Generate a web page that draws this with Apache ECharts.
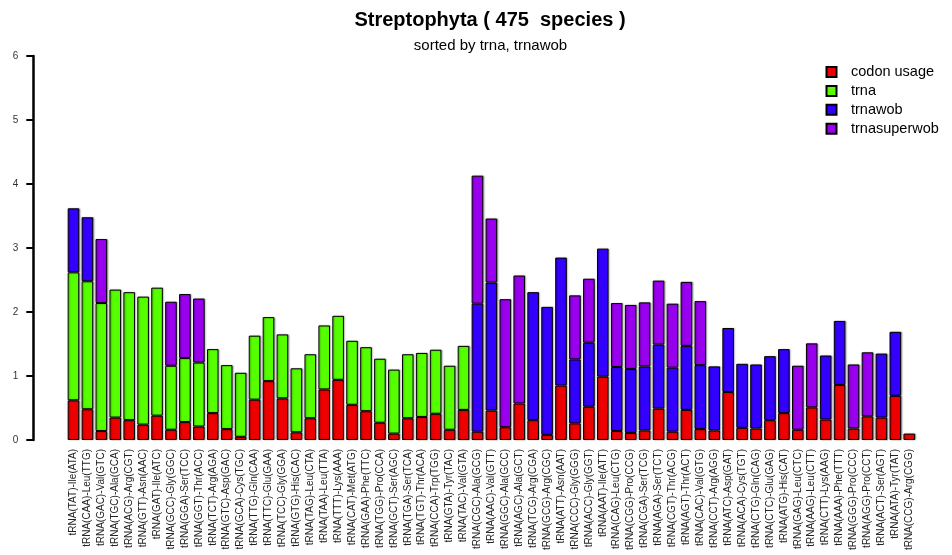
<!DOCTYPE html>
<html><head><meta charset="utf-8">
<script src="https://cdn.jsdelivr.net/npm/echarts@6/dist/echarts.min.js"></script>
<style>html,body{margin:0;padding:0;background:#fff}#c{width:952px;height:555px}</style>
</head><body><div id="c"></div>
<script>
const categories = [
"tRNA(TAT)-Ile(ATA)","tRNA(CAA)-Leu(TTG)","tRNA(GAC)-Val(GTC)","tRNA(TGC)-Ala(GCA)","tRNA(ACG)-Arg(CGT)",
"tRNA(GTT)-Asn(AAC)","tRNA(GAT)-Ile(ATC)","tRNA(GCC)-Gly(GGC)","tRNA(GGA)-Ser(TCC)","tRNA(GGT)-Thr(ACC)",
"tRNA(TCT)-Arg(AGA)","tRNA(GTC)-Asp(GAC)","tRNA(GCA)-Cys(TGC)","tRNA(TTG)-Gln(CAA)","tRNA(TTC)-Glu(GAA)",
"tRNA(TCC)-Gly(GGA)","tRNA(GTG)-His(CAC)","tRNA(TAG)-Leu(CTA)","tRNA(TAA)-Leu(TTA)","tRNA(TTT)-Lys(AAA)",
"tRNA(CAT)-Met(ATG)","tRNA(GAA)-Phe(TTC)","tRNA(TGG)-Pro(CCA)","tRNA(GCT)-Ser(AGC)","tRNA(TGA)-Ser(TCA)",
"tRNA(TGT)-Thr(ACA)","tRNA(CCA)-Trp(TGG)","tRNA(GTA)-Tyr(TAC)","tRNA(TAC)-Val(GTA)","tRNA(CGC)-Ala(GCG)",
"tRNA(AAC)-Val(GTT)","tRNA(GGC)-Ala(GCC)","tRNA(AGC)-Ala(GCT)","tRNA(TCG)-Arg(CGA)","tRNA(GCG)-Arg(CGC)",
"tRNA(ATT)-Asn(AAT)","tRNA(CCC)-Gly(GGG)","tRNA(ACC)-Gly(GGT)","tRNA(AAT)-Ile(ATT)","tRNA(CAG)-Leu(CTG)",
"tRNA(CGG)-Pro(CCG)","tRNA(CGA)-Ser(TCG)","tRNA(AGA)-Ser(TCT)","tRNA(CGT)-Thr(ACG)","tRNA(AGT)-Thr(ACT)",
"tRNA(CAC)-Val(GTG)","tRNA(CCT)-Arg(AGG)","tRNA(ATC)-Asp(GAT)","tRNA(ACA)-Cys(TGT)","tRNA(CTG)-Gln(CAG)",
"tRNA(CTC)-Glu(GAG)","tRNA(ATG)-His(CAT)","tRNA(GAG)-Leu(CTC)","tRNA(AAG)-Leu(CTT)","tRNA(CTT)-Lys(AAG)",
"tRNA(AAA)-Phe(TTT)","tRNA(GGG)-Pro(CCC)","tRNA(AGG)-Pro(CCT)","tRNA(ACT)-Ser(AGT)","tRNA(ATA)-Tyr(TAT)",
"tRNA(CCG)-Arg(CGG)"];
const codonUsage = [0.62,0.48,0.14,0.35,0.31,0.24,0.38,0.16,0.28,0.21,
0.42,0.17,0.05,0.63,0.92,0.65,0.12,0.34,0.79,0.94,
0.55,0.45,0.27,0.10,0.34,0.36,0.41,0.16,0.47,0.13,
0.46,0.20,0.57,0.31,0.08,0.85,0.26,0.52,0.99,0.14,
0.11,0.15,0.49,0.13,0.47,0.17,0.15,0.75,0.19,0.18,
0.31,0.42,0.16,0.51,0.32,0.86,0.18,0.37,0.35,0.69,0.10];
const trna = [2,2,2,2,2,2,2,1,1,1,
1,1,1,1,1,1,1,1,1,1,
1,1,1,1,1,1,1,1,1,0,
0,0,0,0,0,0,0,0,0,0,
0,0,0,0,0,0,0,0,0,0,
0,0,0,0,0,0,0,0,0,0,0];
const trnawob = [1,1,0,0,0,0,0,0,0,0,
0,0,0,0,0,0,0,0,0,0,
0,0,0,0,0,0,0,0,0,2,
2,0,0,2,2,2,1,1,2,1,
1,1,1,1,1,1,1,1,1,1,
1,1,0,0,1,1,0,0,1,1,0];
const trnasuperwob = [0,0,1,0,0,0,0,1,1,1,
0,0,0,0,0,0,0,0,0,0,
0,0,0,0,0,0,0,0,0,2,
1,2,2,0,0,0,1,1,0,1,
1,1,1,1,1,1,0,0,0,0,
0,0,1,1,0,0,1,1,0,0,0];
const yTicks = [0,1,2,3,4,5,6];
const seriesNames = ["codon usage","trna","trnawob","trnasuperwob"];
const seriesColors = ["#ee0000","#55ff00","#3300ff","#9900ee"];
const seriesValues = [codonUsage, trna, trnawob, trnasuperwob];

const chart = echarts.init(document.getElementById('c'), null, {renderer:'canvas'});
const FONT = '"Liberation Sans", Arial, Helvetica, sans-serif';
chart.setOption({
  animation:false,
  backgroundColor:'#fff',
  textStyle:{fontFamily:FONT},
  graphic:[
    {type:'text', x:490, y:20.8, style:{text:'Streptophyta ( 475  species )', fill:'#000', font:'bold 20px "Liberation Sans", Arial, sans-serif', align:'center', verticalAlign:'middle'}},
    {type:'text', x:490.5, y:45.5, style:{text:'sorted by trna, trnawob', fill:'#000', font:'15px "Liberation Sans", Arial, sans-serif', align:'center', verticalAlign:'middle'}}
  ],
  legend:{
    orient:'vertical', left:820.5, top:59.5, padding:5, itemWidth:10, itemHeight:10, itemGap:3.9,
    icon:'rect',
    textStyle:{fontSize:14.5, color:'#000', lineHeight:14.5, padding:[0,0,0,9.5], fontFamily:FONT},
    data:seriesNames
  },
  grid:{left:66.5, right:35.8, top:56, bottom:115, containLabel:false},
  xAxis:{
    type:'category', data:categories,
    axisLine:{show:false}, axisTick:{show:false},
    axisLabel:{rotate:90, interval:0, fontSize:10, margin:9, color:'#222', fontFamily:FONT}
  },
  yAxis:{
    type:'value', min:yTicks[0], max:yTicks[yTicks.length-1], interval:1, offset:33.2,
    axisLine:{show:true, lineStyle:{color:'#000', width:2.5}},
    axisTick:{show:true, length:7, lineStyle:{color:'#000', width:2}},
    axisLabel:{fontSize:10, color:'#333', margin:15, fontFamily:FONT},
    splitLine:{show:false}
  },
  series: seriesNames.map((name,i)=>({
    name, type:'bar', stack:'s', barWidth:11.6,
    data: seriesValues[i].map(v => v ? v : null),
    itemStyle:{color:seriesColors[i], borderColor:'#000', borderWidth:1,
      shadowColor:'rgba(0,0,0,0.35)', shadowBlur:1.5, shadowOffsetX:1, shadowOffsetY:0}
  }))
});
</script></body></html>
